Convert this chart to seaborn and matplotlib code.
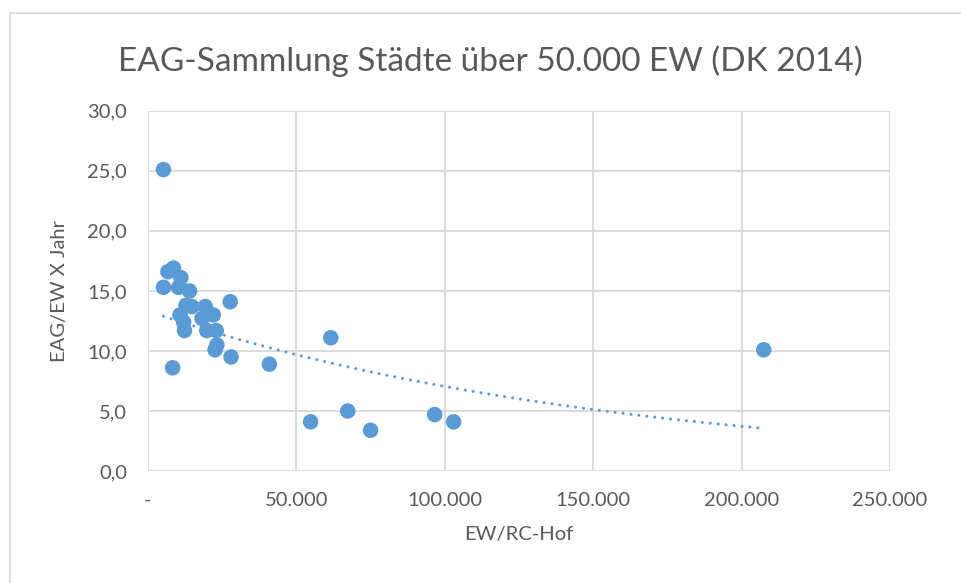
import numpy as np
import pandas as pd
import matplotlib.pyplot as plt
import matplotlib.ticker as mticker
from matplotlib.lines import Line2D
import seaborn as sns

# EW per RC-Hof and EAG per EW and year
ew_rc_hof = [5200, 6700, 8600, 11100, 5200, 10300, 14000, 12800, 14800, 19300,
             10800, 22000, 18200, 12000, 12300, 19800, 23000, 23200, 22600,
             27700, 28000, 8300, 40900, 61600, 54800, 67300, 75000, 96600,
             103000, 207500]
eag_ew_jahr = [25.1, 16.6, 16.9, 16.1, 15.3, 15.3, 15.0, 13.8, 13.7, 13.7,
               13.0, 13.0, 12.7, 12.4, 11.7, 11.7, 11.7, 10.5, 10.1,
               14.1, 9.5, 8.6, 8.9, 11.1, 4.1, 5.0, 3.4, 4.7,
               4.1, 10.1]

x_ticks = [0, 50000, 100000, 150000, 200000, 250000]
y_ticks = [0, 5, 10, 15, 20, 25, 30]

df = pd.DataFrame({"ew": ew_rc_hof, "eag": eag_ew_jahr})

# exponential trend line (Excel style: fit ln(y) against x)
b, a = np.polyfit(df["ew"], np.log(df["eag"]), 1)
trend_x = np.linspace(df["ew"].min(), df["ew"].max(), 200)
trend = pd.DataFrame({"ew": trend_x, "eag": np.exp(a) * np.exp(b * trend_x)})

sns.set_style("white")
plt.rcParams["font.family"] = ["Lato", "DejaVu Sans"]

blue = "#5B9BD5"
grey_text = "#595959"
grid = "#D9D9D9"

fig = plt.figure(figsize=(9.61, 5.83), dpi=100)
ax = fig.add_axes([0.154, 0.192, 0.772, 0.618])

sns.scatterplot(data=df, x="ew", y="eag", ax=ax, color=blue, s=125,
                edgecolor="none", zorder=3)
sns.lineplot(data=trend, x="ew", y="eag", ax=ax, color=blue, linewidth=2.2,
             linestyle=(0, (0.01, 2.6)), dash_capstyle="round", zorder=2)

ax.set_xlim(0, 250000)
ax.set_ylim(0, 30)
ax.set_xticks(x_ticks)
ax.set_yticks(y_ticks)
ax.xaxis.set_major_formatter(mticker.FuncFormatter(
    lambda v, p: "-" if v == 0 else f"{int(v):,}".replace(",", ".")))
ax.yaxis.set_major_formatter(mticker.FuncFormatter(
    lambda v, p: f"{v:.1f}".replace(".", ",")))

ax.grid(True, color=grid, linewidth=1.3)
ax.set_axisbelow(True)
for s in ax.spines.values():
    s.set_visible(False)
ax.tick_params(axis="both", length=0, labelsize=14.5, colors=grey_text)
ax.tick_params(axis="x", pad=15)
ax.tick_params(axis="y", pad=15)

ax.set_xlabel("EW/RC-Hof", fontsize=14.5, color=grey_text, labelpad=12)
ax.set_ylabel("EAG/EW X Jahr", fontsize=14.5, color=grey_text, labelpad=14)
fig.text(0.51, 0.895, "EAG-Sammlung Städte über 50.000 EW (DK 2014)",
         ha="center", va="center", fontsize=24, color=grey_text)

# chart area border (top and left visible)
fig.add_artist(Line2D([10 / 961, 1], [1 - 13 / 583, 1 - 13 / 583],
                      transform=fig.transFigure, color=grid, linewidth=1.2))
fig.add_artist(Line2D([10 / 961, 10 / 961], [0, 1 - 13 / 583],
                      transform=fig.transFigure, color=grid, linewidth=1.2))

fig.savefig("out.png", dpi=100)
